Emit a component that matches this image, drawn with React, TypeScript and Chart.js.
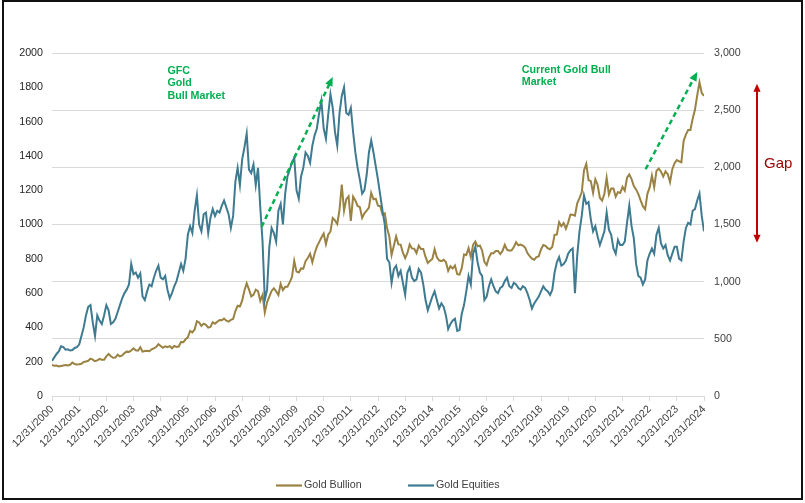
import React, { useEffect, useRef } from 'react';
import { Chart, registerables } from 'chart.js';

Chart.register(...registerables);

// ---- Data (month-end values, index 0 = 12/31/2000, index 288 = 12/31/2024) ----
const tickLabels = [
  '12/31/2000', '12/31/2001', '12/31/2002', '12/31/2003', '12/31/2004',
  '12/31/2005', '12/31/2006', '12/31/2007', '12/31/2008', '12/31/2009',
  '12/31/2010', '12/31/2011', '12/31/2012', '12/31/2013', '12/31/2014',
  '12/31/2015', '12/31/2016', '12/31/2017', '12/31/2018', '12/31/2019',
  '12/31/2020', '12/31/2021', '12/31/2022', '12/31/2023', '12/31/2024',
];

const seriesNames = ['Gold Bullion', 'Gold Equities'];

// Gold Bullion (right axis, USD/oz)
const goldBullion = [
  272,
  265, 267, 258, 263, 267, 270, 266, 273, 293, 279, 275, 277,
  282, 297, 302, 308, 327, 318, 304, 312, 324, 317, 317, 347,
  368, 348, 334, 336, 361, 346, 354, 375, 388, 386, 398, 417,
  400, 396, 427, 388, 393, 395, 391, 408, 416, 428, 453, 438,
  422, 435, 428, 436, 417, 437, 429, 433, 473, 470, 496, 513,
  569, 556, 582, 654, 643, 613, 633, 623, 599, 604, 646, 632,
  650, 665, 662, 677, 659, 650, 666, 673, 743, 789, 783, 834,
  923, 985, 933, 871, 885, 930, 918, 833, 884, 730, 819, 870,
  919, 942, 916, 883, 980, 926, 955, 955, 996, 1040, 1182, 1088,
  1081, 1116, 1113, 1180, 1207, 1244, 1169, 1246, 1307, 1346, 1386, 1421,
  1327, 1411, 1439, 1556, 1536, 1505, 1628, 1850, 1620, 1722, 1746, 1531,
  1744, 1711, 1662, 1651, 1558, 1598, 1622, 1648, 1776, 1720, 1726, 1664,
  1660, 1588, 1598, 1469, 1394, 1234, 1314, 1396, 1326, 1324, 1253, 1205,
  1251, 1326, 1291, 1288, 1250, 1315, 1285, 1286, 1216, 1164, 1182, 1199,
  1284, 1213, 1187, 1180, 1191, 1172, 1095, 1135, 1115, 1142, 1065, 1061,
  1118, 1238, 1233, 1293, 1215, 1322, 1351, 1309, 1316, 1273, 1173, 1146,
  1211, 1249, 1249, 1268, 1269, 1242, 1269, 1322, 1280, 1271, 1275, 1303,
  1345, 1318, 1325, 1315, 1298, 1250, 1224, 1201, 1192, 1215, 1221, 1282,
  1321, 1313, 1292, 1284, 1305, 1409, 1413, 1520, 1485, 1513, 1463, 1517,
  1587, 1585, 1577, 1686, 1730, 1781, 1975, 2030, 1887, 1879, 1777, 1895,
  1848, 1734, 1708, 1769, 1907, 1763, 1814, 1814, 1743, 1783, 1775, 1829,
  1796, 1909, 1937, 1897, 1837, 1807, 1766, 1711, 1660, 1633, 1768, 1824,
  1928, 1827, 1969, 1990, 1962, 1919, 1965, 1940, 1871, 1984, 2036, 2063,
  2053, 2044, 2230, 2286, 2327, 2326, 2426, 2503, 2630, 2744, 2650, 2625,
];

// Gold Equities (left axis, index level)
const goldEquities = [
  205,
  225, 245, 260, 290, 285, 270, 272, 265, 268, 280, 285, 300,
  350, 400, 470, 520, 530, 430, 350, 470, 440, 420, 470, 530,
  500, 420, 430, 450, 490, 530, 570, 600, 620, 650, 770, 710,
  720, 690, 715, 580, 560, 610, 650, 640, 690, 730, 760, 690,
  680, 700, 620, 570, 600, 640, 670, 720, 770, 730, 800, 940,
  990, 950, 1080, 1170, 1000, 960, 1060, 1070, 950, 1040, 1090, 1050,
  1080, 1070, 1110, 1140, 1100, 1060, 980, 1050, 1250, 1330, 1230, 1380,
  1450, 1530, 1320, 1300, 1350, 1230, 1330, 1100, 900, 560, 620, 870,
  980, 950, 900, 1080, 1120, 1000, 1180, 1280, 1320, 1360, 1390, 1200,
  1150, 1280, 1330, 1420, 1400, 1360, 1460, 1520, 1560, 1650, 1720, 1560,
  1500, 1640, 1760, 1680, 1540, 1460, 1650, 1750, 1800, 1650, 1640, 1680,
  1540, 1420, 1330, 1260, 1180, 1200, 1290, 1420, 1490, 1420, 1340, 1260,
  1170, 1080, 1000, 800, 780, 660, 740, 760, 700, 730, 660, 590,
  720, 750, 690, 670, 680, 740, 720, 650, 560, 500, 540, 580,
  610, 560, 510, 540, 520, 470, 390, 420, 440, 450, 380, 385,
  480, 530, 610, 700, 650, 830, 870, 780, 720, 700, 560, 580,
  640, 680, 640, 610, 600, 630, 640, 670, 690, 640, 630, 660,
  650, 630, 620, 640, 630, 600, 560, 510, 540, 560, 580, 610,
  640, 620, 610, 590, 620, 720, 780, 810, 760, 770, 790, 830,
  850, 860, 600, 820, 960, 1050, 1170, 1120, 1130, 1030, 960, 990,
  930, 880, 920, 960, 1070, 970, 940, 860, 830, 910, 880, 880,
  900, 1010, 1110, 990, 920, 770, 700, 690, 650, 680, 790, 830,
  860, 830, 940, 980, 890, 860, 880, 820, 790, 830, 870, 870,
  800, 790, 900, 980, 1010, 1000, 1080, 1090, 1140, 1180, 1050, 960,
];

// Annotation text and anchor points (x in months since 12/31/2000, y on left axis)
const gfcText = ['GFC', 'Gold', 'Bull Market'];
const currentText = ['Current Gold Bull', 'Market'];
const gapText = 'Gap';
const gfcTextAt = [51, 1878];
const currentTextAt = [207.5, 1882];
const gfcArrow = [92.6, 987, 124, 1860];
const currentArrow = [262.2, 1322, 285, 1889];
const gapArrow = [2730, 1340]; // right-axis values

const FONT = "'Liberation Sans', Arial, Helvetica, sans-serif";
const BULLION_COLOR = '#9A8243';
const EQUITY_COLOR = '#3E7A90';
const GREEN = '#00B050';
const RED = '#C00000';
const GRID = '#D9D9D9';

function tri(ctx: CanvasRenderingContext2D, x: number, y: number, ang: number, len: number, half: number, color: string) {
  const bx = x - Math.cos(ang) * len;
  const by = y - Math.sin(ang) * len;
  const px = -Math.sin(ang) * half;
  const py = Math.cos(ang) * half;
  ctx.fillStyle = color;
  ctx.beginPath();
  ctx.moveTo(x, y);
  ctx.lineTo(bx + px, by + py);
  ctx.lineTo(bx - px, by - py);
  ctx.closePath();
  ctx.fill();
}

function arrow(
  ctx: CanvasRenderingContext2D,
  x1: number, y1: number, x2: number, y2: number,
  color: string, dash: number[], lw: number, len: number, half: number, both: boolean,
) {
  const ang = Math.atan2(y2 - y1, x2 - x1);
  const ex = x2 - Math.cos(ang) * (len - 1);
  const ey = y2 - Math.sin(ang) * (len - 1);
  const sx = both ? x1 + Math.cos(ang) * (len - 1) : x1;
  const sy = both ? y1 + Math.sin(ang) * (len - 1) : y1;
  ctx.save();
  ctx.strokeStyle = color;
  ctx.lineWidth = lw;
  ctx.setLineDash(dash);
  ctx.beginPath();
  ctx.moveTo(sx, sy);
  ctx.lineTo(ex, ey);
  ctx.stroke();
  ctx.setLineDash([]);
  tri(ctx, x2, y2, ang, len, half, color);
  if (both) tri(ctx, x1, y1, ang + Math.PI, len, half, color);
  ctx.restore();
}

const annotationPlugin = {
  id: 'customAnnotations',
  afterDatasetsDraw(chart: any) {
    const { ctx, chartArea, scales } = chart;
    const xs = scales.x;
    const yl = scales.y;
    const yr = scales.y1;
    ctx.save();

    // Green dashed arrows
    arrow(ctx, xs.getPixelForValue(gfcArrow[0]), yl.getPixelForValue(gfcArrow[1]),
      xs.getPixelForValue(gfcArrow[2]), yl.getPixelForValue(gfcArrow[3]), GREEN, [5, 3.5], 2.5, 9, 4, false);
    arrow(ctx, xs.getPixelForValue(currentArrow[0]), yl.getPixelForValue(currentArrow[1]),
      xs.getPixelForValue(currentArrow[2]), yl.getPixelForValue(currentArrow[3]), GREEN, [5, 3.5], 2.5, 9, 4, false);

    // Green labels
    ctx.fillStyle = GREEN;
    ctx.font = `bold 10.7px ${FONT}`;
    ctx.textAlign = 'left';
    ctx.textBaseline = 'alphabetic';
    gfcText.forEach((s, i) => {
      ctx.fillText(s, xs.getPixelForValue(gfcTextAt[0]), yl.getPixelForValue(gfcTextAt[1]) + i * 12.3);
    });
    currentText.forEach((s, i) => {
      ctx.fillText(s, xs.getPixelForValue(currentTextAt[0]), yl.getPixelForValue(currentTextAt[1]) + i * 11.8);
    });

    // Gap double arrow (outside plot, right of right axis)
    const gx = chartArea.right + 53;
    arrow(ctx, gx, yr.getPixelForValue(gapArrow[0]), gx, yr.getPixelForValue(gapArrow[1]), RED, [], 2, 8, 3.6, true);
    ctx.fillStyle = '#990000';
    ctx.font = `15px ${FONT}`;
    ctx.textAlign = 'left';
    ctx.fillText(gapText, gx + 7, (yr.getPixelForValue(gapArrow[0]) + yr.getPixelForValue(gapArrow[1])) / 2 + 5);

    // Legend
    const ly = 485.5;
    const items = [
      { x: 276, color: BULLION_COLOR, label: seriesNames[0] },
      { x: 408, color: EQUITY_COLOR, label: seriesNames[1] },
    ];
    ctx.font = `10.7px ${FONT}`;
    ctx.textBaseline = 'middle';
    items.forEach((it) => {
      ctx.strokeStyle = it.color;
      ctx.lineWidth = 2.2;
      ctx.beginPath();
      ctx.moveTo(it.x, ly);
      ctx.lineTo(it.x + 26, ly);
      ctx.stroke();
      ctx.fillStyle = '#404040';
      ctx.fillText(it.label, it.x + 28, ly);
    });

    ctx.restore();
  },
};

export default function App() {
  const canvasRef = useRef<HTMLCanvasElement | null>(null);

  useEffect(() => {
    const canvas = canvasRef.current;
    if (!canvas) return;
    const chart = new Chart(canvas, {
      type: 'line',
      data: {
        datasets: [
          {
            label: seriesNames[0],
            data: goldBullion.map((v, i) => ({ x: i, y: v })),
            yAxisID: 'y1',
            borderColor: BULLION_COLOR,
            backgroundColor: BULLION_COLOR,
            borderWidth: 2,
            pointRadius: 0,
            tension: 0,
            order: 1,
          },
          {
            label: seriesNames[1],
            data: goldEquities.map((v, i) => ({ x: i, y: v })),
            yAxisID: 'y',
            borderColor: EQUITY_COLOR,
            backgroundColor: EQUITY_COLOR,
            borderWidth: 2,
            pointRadius: 0,
            tension: 0,
            order: 0,
          },
        ],
      },
      options: {
        responsive: false,
        animation: false,
        events: [],
        layout: { padding: { top: 53, left: 0, right: 0, bottom: 0 } },
        plugins: {
          legend: { display: false },
          tooltip: { enabled: false },
        },
        scales: {
          x: {
            type: 'linear',
            min: 0,
            max: 288,
            ticks: {
              stepSize: 12,
              autoSkip: false,
              minRotation: 45,
              maxRotation: 45,
              padding: 2,
              color: '#404040',
              font: { family: FONT, size: 10.7 },
              callback: (v: any) => tickLabels[Math.round(Number(v) / 12)] ?? '',
            },
            grid: { display: true, drawOnChartArea: false, drawTicks: true, tickLength: 5, color: GRID },
            border: { display: true, color: GRID },
            afterFit: (s: any) => { s.height = 107; },
          },
          y: {
            position: 'left',
            min: 0,
            max: 2000,
            ticks: {
              stepSize: 200,
              padding: 9,
              color: '#262626',
              font: { family: FONT, size: 10.7 },
              callback: (v: any) => String(v),
            },
            grid: { display: false, drawTicks: false },
            border: { display: false },
            afterFit: (s: any) => { s.width = 52; },
          },
          y1: {
            position: 'right',
            min: 0,
            max: 3000,
            ticks: {
              stepSize: 500,
              padding: 10,
              color: '#404040',
              font: { family: FONT, size: 10.7 },
              callback: (v: any) => Number(v).toLocaleString('en-US'),
            },
            grid: { color: GRID, drawTicks: false, lineWidth: 1 },
            border: { display: false },
            afterFit: (s: any) => { s.width = 101; },
          },
        },
      },
      plugins: [annotationPlugin],
    } as any);
    return () => chart.destroy();
  }, []);

  return (
    <div style={{ position: 'fixed', left: 0, top: 0, width: 805, height: 503, background: '#fff' }}>
      <canvas ref={canvasRef} width={805} height={503} style={{ position: 'absolute', left: 0, top: 0, width: 805, height: 503 }} />
      <div
        style={{
          position: 'absolute', left: 2, top: 0, width: 801, height: 500,
          border: '2px solid #111', boxSizing: 'border-box', pointerEvents: 'none',
        }}
      />
    </div>
  );
}
